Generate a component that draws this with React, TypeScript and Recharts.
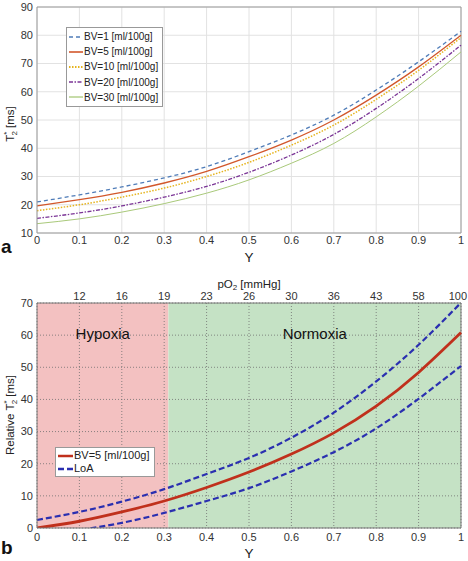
import {
  CartesianGrid,
  Legend,
  Line,
  LineChart,
  ReferenceArea,
  ReferenceLine,
  XAxis,
  YAxis,
} from 'recharts'

// saturation values on the x axis
const satY = [0, 0.1, 0.2, 0.3, 0.4, 0.5, 0.6, 0.7, 0.8, 0.9, 1]
const xTicks = [0, 0.1, 0.2, 0.3, 0.4, 0.5, 0.6, 0.7, 0.8, 0.9, 1]

// panel a: T2* [ms] per blood volume
const bv1 = [21.0, 23.5, 26.3, 29.5, 33.5, 38.8, 44.7, 51.7, 60.6, 70.6, 81.4]
const bv5 = [19.6, 21.8, 24.4, 27.7, 31.8, 37.0, 42.9, 50.0, 58.8, 68.8, 80.0]
const bv10 = [17.9, 20.0, 22.7, 25.9, 30.0, 35.0, 41.1, 48.2, 57.3, 67.6, 79.2]
const bv20 = [15.2, 17.1, 19.6, 22.7, 26.5, 31.5, 37.6, 44.9, 54.1, 64.7, 76.5]
const bv30 = [13.3, 15.0, 17.4, 20.4, 24.1, 28.8, 34.7, 41.7, 51.1, 62.0, 74.1]
const aTicks = [10, 20, 30, 40, 50, 60, 70, 80, 90]

// panel b: relative T2* with limits of agreement
const relBv5 = [0, 2.1, 5.0, 8.4, 12.6, 17.4, 23.0, 29.6, 37.9, 48.4, 60.8]
const loaUpper = [2.5, 5.0, 8.2, 12.1, 16.8, 21.8, 28.1, 35.9, 45.6, 57.0, 70.1]
const loaLower = [-2.4, -0.6, 1.6, 4.7, 8.4, 12.4, 17.6, 23.6, 31.0, 40.2, 50.4]
const bTicks = [0, 10, 20, 30, 40, 50, 60, 70]
const pO2Pos = [0.1, 0.2, 0.3, 0.4, 0.5, 0.6, 0.7, 0.8, 0.9, 1]
const pO2Labels = ['12', '16', '19', '23', '26', '30', '36', '43', '58', '100']
const hypoxiaLimit = 0.31

const dataA = satY.map((y, i) => ({ y, bv1: bv1[i], bv5: bv5[i], bv10: bv10[i], bv20: bv20[i], bv30: bv30[i] }))
const dataB = satY.map((y, i) => ({ y, rel: relBv5[i], up: loaUpper[i], low: loaLower[i] }))

const seriesA = [
  { key: 'bv1', name: 'BV=1 [ml/100g]', color: '#4f7cb8', dash: '4 3', width: 1.3 },
  { key: 'bv5', name: 'BV=5 [ml/100g]', color: '#d2572b', dash: undefined, width: 1.3 },
  { key: 'bv10', name: 'BV=10 [ml/100g]', color: '#e6b41e', dash: '1.5 1.5', width: 1.5 },
  { key: 'bv20', name: 'BV=20 [ml/100g]', color: '#7b3596', dash: '4 1.5 1.5 1.5', width: 1.3 },
  { key: 'bv30', name: 'BV=30 [ml/100g]', color: '#a9c97a', dash: undefined, width: 1 },
]

const seriesB = [
  { key: 'rel', name: 'BV=5 [ml/100g]', color: '#c0301c', dash: undefined, width: 2.8 },
  { key: 'up', name: 'LoA', color: '#2a2fb0', dash: '6 3', width: 2.2 },
  { key: 'low', name: 'LoA', color: '#2a2fb0', dash: '6 3', width: 2.2 },
]

const FONT = '"Liberation Sans", Arial, sans-serif'
const tickStyle = { fill: '#333', fontSize: 11, fontFamily: FONT }

function LegendBox({ items, fontSize, rowH, sample }: any) {
  return (
    <div style={{ background: '#fff', border: '1px solid #999', padding: '1px 4px 1px 2px', fontFamily: FONT, fontSize, lineHeight: `${rowH}px`, color: '#222' }}>
      {items.map((s: any) => (
        <div key={s.name} style={{ display: 'flex', alignItems: 'center', whiteSpace: 'nowrap' }}>
          <svg width={sample} height={8} style={{ marginRight: 1 }}>
            <line x1={0} y1={4} x2={sample} y2={4} stroke={s.color} strokeWidth={Math.min(s.width + 0.3, 2.5)} strokeDasharray={s.dash} />
          </svg>
          <span>{s.name}</span>
        </div>
      ))}
    </div>
  )
}

// pO2 tick on the top axis; the last one is pulled in so it stays inside the frame
function PO2Tick(props: any) {
  const { x, y, payload } = props
  const label = pO2Labels[pO2Pos.indexOf(payload.value)] ?? ''
  const last = payload.value === 1
  return (
    <text x={last ? x + 6 : x} y={y} textAnchor={last ? 'end' : 'middle'} fontSize={11} fill="#333" fontFamily={FONT}>
      {label}
    </text>
  )
}

const yTitle = (prefix: string, cy: number) => (props: any) => {
  const cx = 10
  return (
    <text x={cx} y={cy} transform={`rotate(-90 ${cx} ${cy})`} textAnchor="middle" dominantBaseline="central" fontSize={11.5} fill="#222" fontFamily={FONT}>
      {prefix}T<tspan dy={-4} fontSize={8}>*</tspan><tspan dx={-4} dy={8} fontSize={8}>2</tspan><tspan dy={-4}> [ms]</tspan>
    </text>
  )
}

const xTitle = (dy: number) => (props: any) => {
  const vb = props.viewBox
  return (
    <text x={vb.x + vb.width / 2} y={vb.y + dy} textAnchor="middle" dominantBaseline="central" fontSize={13.5} fill="#222" fontFamily={FONT}>
      Y
    </text>
  )
}

const pO2Title = (props: any) => {
  const vb = props.viewBox
  return (
    <text x={vb.x + vb.width / 2} y={vb.y + vb.height - 19} textAnchor="middle" dominantBaseline="central" fontSize={11.5} fill="#222" fontFamily={FONT}>
      pO<tspan dy={3} fontSize={8}>2</tspan><tspan dy={-3}> [mmHg]</tspan>
    </text>
  )
}

export default function App() {
  return (
    <div style={{ position: 'absolute', left: 0, top: 0, width: 468, height: 561, background: '#fff', fontFamily: FONT }}>
      <div style={{ position: 'absolute', left: 0, top: 0 }}>
        <LineChart width={468} height={270} data={dataA} margin={{ top: 7, right: 7, bottom: 0, left: 0 }}>
          <CartesianGrid stroke="#e2e2e2" />
          <XAxis dataKey="y" type="number" domain={[0, 1]} ticks={xTicks} height={37} tick={tickStyle}
            axisLine={{ stroke: '#9a9a9a' }} tickLine={false} tickSize={2} tickMargin={1} label={xTitle(24)} />
          <YAxis type="number" domain={[10, 90]} ticks={aTicks} width={37} tick={tickStyle}
            axisLine={{ stroke: '#9a9a9a' }} tickLine={false} tickSize={2} tickMargin={2} label={yTitle('', 124)} />
          <ReferenceLine x={1} stroke="#9a9a9a" />
          <ReferenceLine y={90} stroke="#9a9a9a" />
          {seriesA.map((s) => (
            <Line key={s.key} type="natural" dataKey={s.key} name={s.name} stroke={s.color} strokeWidth={s.width}
              strokeDasharray={s.dash} dot={false} isAnimationActive={false} />
          ))}
          <Legend layout="vertical" align="center" verticalAlign="middle"
            wrapperStyle={{ left: 66, top: 27, width: 'auto' }}
            content={() => <LegendBox items={seriesA} fontSize={10} rowH={15.2} sample={14} />} />
        </LineChart>
      </div>
      <div style={{ position: 'absolute', left: 1, top: 236, fontSize: 19, fontWeight: 'bold', color: '#111' }}>a</div>

      <div style={{ position: 'absolute', left: 0, top: 270 }}>
        <LineChart width={468} height={291} data={dataB} margin={{ top: 11, right: 7, bottom: 0, left: 0 }}>
          <ReferenceArea x1={0} x2={hypoxiaLimit} y1={0} y2={70} fill="#f3c1c1" fillOpacity={1} stroke="none" zIndex={-150}
            label={{ value: 'Hypoxia', position: 'insideTop', offset: 25, fontSize: 15, fill: '#111', fontFamily: FONT }} />
          <ReferenceArea x1={hypoxiaLimit} x2={1} y1={0} y2={70} fill="#c5e2c5" fillOpacity={1} stroke="none" zIndex={-150}
            label={{ value: 'Normoxia', position: 'insideTop', offset: 25, fontSize: 15, fill: '#111', fontFamily: FONT }} />
          <CartesianGrid stroke="#6f6f6f" strokeDasharray="1 2" strokeWidth={0.8} />
          <XAxis dataKey="y" type="number" domain={[0, 1]} ticks={xTicks} height={33} tick={tickStyle}
            axisLine={{ stroke: '#777' }} tickLine={false} tickSize={3} tickMargin={2} label={xTitle(25)} />
          <XAxis xAxisId="top" dataKey="y" orientation="top" type="number" domain={[0, 1]} allowDataOverflow ticks={pO2Pos}
            interval={0} height={22} tick={<PO2Tick />}
            axisLine={{ stroke: '#777' }} tickLine={false} tickSize={2} tickMargin={1} label={pO2Title} />
          <YAxis type="number" domain={[0, 70]} allowDataOverflow ticks={bTicks} width={37} tick={tickStyle}
            axisLine={{ stroke: '#777' }} tickLine={false} tickSize={2} tickMargin={2} label={yTitle('Relative ', 145)} />
          <ReferenceLine x={1} stroke="#777" />
          {seriesB.map((s) => (
            <Line key={s.key} type="natural" dataKey={s.key} name={s.name} stroke={s.color} strokeWidth={s.width}
              strokeDasharray={s.dash} dot={false} isAnimationActive={false} />
          ))}
          <Legend layout="vertical" align="center" verticalAlign="middle"
            wrapperStyle={{ left: 55, top: 177, width: 'auto' }}
            content={() => <LegendBox items={seriesB.slice(0, 2)} fontSize={11} rowH={13} sample={15} />} />
        </LineChart>
      </div>
      <div style={{ position: 'absolute', left: 1, top: 537, fontSize: 19, fontWeight: 'bold', color: '#111' }}>b</div>
    </div>
  )
}
